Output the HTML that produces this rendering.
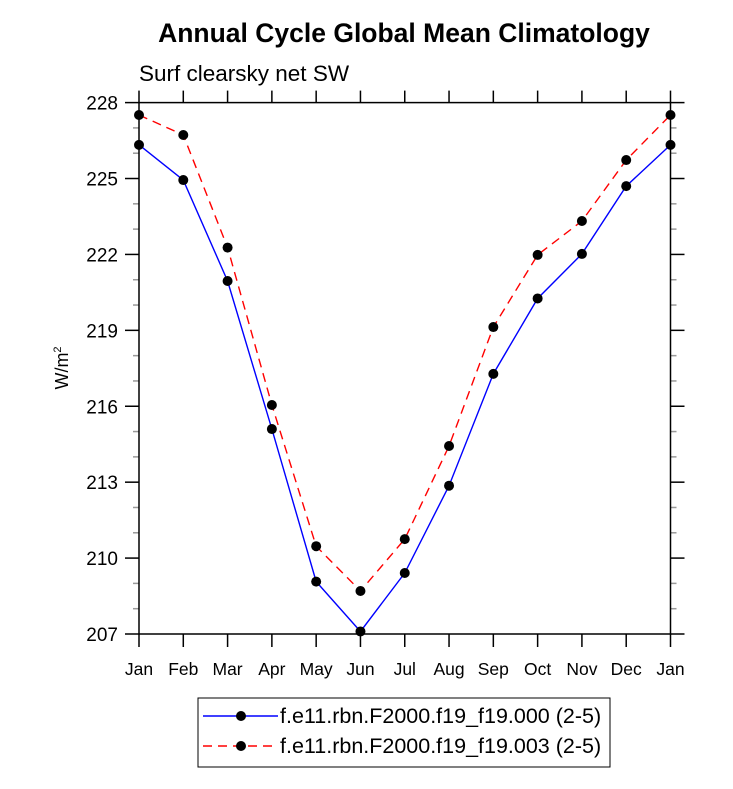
<!DOCTYPE html>
<html><head><meta charset="utf-8"><style>body{margin:0;background:#fff}svg{display:block}text{font-family:"Liberation Sans",Arial,sans-serif}</style></head><body>
<svg id="c" width="733" height="789"></svg>
<script>
const months=["Jan","Feb","Mar","Apr","May","Jun","Jul","Aug","Sep","Oct","Nov","Dec","Jan"];
const series000=[226.33,224.94,220.95,215.1,209.07,207.1,209.41,212.86,217.28,220.26,222.02,224.7,226.33];
const series003=[227.51,226.72,222.27,216.05,210.47,208.7,210.75,214.43,219.13,221.98,223.32,225.73,227.51];
const yTicks=[207,210,213,216,219,222,225,228];
const L=139,R=670.5,T=102.6,B=634,yMin=207,yMax=228;
const xs=i=>L+(R-L)*i/12, ys=v=>B-(v-yMin)/(yMax-yMin)*(B-T);
const svg=document.getElementById('c'),NS='http://www.w3.org/2000/svg';
function mk(t,a,p){const e=document.createElementNS(NS,t);for(const k in a)e.setAttribute(k,a[k]);(p||svg).appendChild(e);return e;}
let e;
e=mk('text',{x:404,y:42,'text-anchor':'middle','font-size':26.5,'font-weight':'bold'});e.textContent='Annual Cycle Global Mean Climatology';


e=mk('text',{x:139,y:81,'font-size':22.5});e.textContent='Surf clearsky net SW';


e=mk('text',{transform:'translate(68,368) rotate(-90)','text-anchor':'middle','font-size':18});e.innerHTML='W/m<tspan dy="-7" font-size="11">2</tspan>';


const g=mk('g',{});


for(let v=yMin;v<=yMax;v++){const y=ys(v);const maj=(v-yMin)%3===0;
 mk('line',{x1:L,x2:L-(maj?14:6),y1:y,y2:y,stroke:maj?'#000':'#999','stroke-width':1.5},g);
 mk('line',{x1:R,x2:R+(maj?14:6),y1:y,y2:y,stroke:maj?'#000':'#999','stroke-width':1.5},g);}
yTicks.forEach(v=>{e=mk('text',{x:118,y:ys(v)+7,'text-anchor':'end','font-size':19});e.textContent=v;

});
months.forEach((m,i)=>{const x=xs(i);
 mk('line',{x1:x,x2:x,y1:B,y2:B+13,stroke:'#000','stroke-width':1.5},g);
 mk('line',{x1:x,x2:x,y1:T,y2:T-12,stroke:'#000','stroke-width':1.5},g);
 e=mk('text',{x:x,y:675,'text-anchor':'middle','font-size':17.5});e.textContent=m;
 
 });
mk('rect',{x:L,y:T,width:R-L,height:B-T,fill:'none',stroke:'#000','stroke-width':1.5},g);
function drawSeries(vals,color,dash,name){
 const s=mk('g',{});
 
 
 mk('polyline',{points:vals.map((v,i)=>xs(i)+','+ys(v)).join(' '),fill:'none',stroke:color,'stroke-width':1.4,'stroke-dasharray':dash},s);
 vals.forEach((v,i)=>{const c=mk('circle',{cx:xs(i),cy:ys(v),r:5,fill:'#000'},s);
 
 });}
drawSeries(series003,'#f00','9,6','series-003');
drawSeries(series000,'#00f','none','series-000');
const lg=mk('g',{});


mk('rect',{x:198,y:698,width:412,height:69,fill:'none',stroke:'#000','stroke-width':1},lg);
[['#00f','none','f.e11.rbn.F2000.f19_f19.000 (2-5)',716],['#f00','9,6','f.e11.rbn.F2000.f19_f19.003 (2-5)',746]].forEach(r=>{
 mk('line',{x1:203,x2:278,y1:r[3],y2:r[3],stroke:r[0],'stroke-width':1.4,'stroke-dasharray':r[1]},lg);
 mk('circle',{cx:241,cy:r[3],r:5,fill:'#000'},lg);
 e=mk('text',{x:280,y:r[3]+7,'font-size':21.5},lg);e.textContent=r[2];
 
 });
</script></body></html>
